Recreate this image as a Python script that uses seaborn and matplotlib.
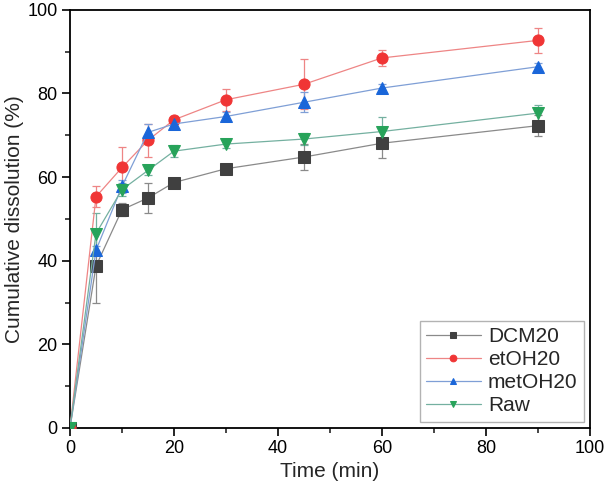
import seaborn as sns
import matplotlib.pyplot as plt
import pandas as pd
from matplotlib.ticker import MultipleLocator

# dissolution data
time = [0, 5, 10, 15, 20, 30, 45, 60, 90]
dcm20 = [0, 38.7, 52.2, 55.0, 58.7, 62.0, 64.8, 68.1, 72.3]
etoh20 = [0, 55.3, 62.3, 68.8, 73.7, 78.5, 82.2, 88.5, 92.7]
metoh20 = [0, 42.5, 57.8, 70.7, 72.7, 74.5, 77.9, 81.3, 86.4]
raw = [0, 46.5, 57.0, 61.6, 66.2, 67.9, 69.1, 70.9, 75.3]

dcm20_err = [0, 8.7, 1.5, 3.5, 1.0, 1.2, 3.0, 3.5, 2.5]
etoh20_err = [0, 2.5, 5.0, 4.0, 1.0, 2.6, 6.0, 2.0, 3.0]
metoh20_err = [0, 1.0, 1.5, 2.0, 1.2, 1.0, 2.4, 1.0, 1.0]
raw_err = [0, 5.0, 1.5, 1.0, 1.5, 1.0, 1.5, 3.4, 2.0]

names = ['DCM20', 'etOH20', 'metOH20', 'Raw']

sns.set_theme(style='ticks')
plt.rcParams['font.family'] = ['Liberation Sans', 'DejaVu Sans']

series = [
    (dcm20, dcm20_err, 's', '#404040', '#8a8a8a'),
    (etoh20, etoh20_err, 'o', '#f03535', '#ee8585'),
    (metoh20, metoh20_err, '^', '#1a66d9', '#7f9fd6'),
    (raw, raw_err, 'v', '#27a35a', '#74b0a0'),
]

fig = plt.figure(figsize=(6.06, 4.93), dpi=100)
ax = fig.add_axes([0.1155, 0.132, 0.858, 0.848])

for name, (vals, err, mk, mcol, lcol) in zip(names, series):
    df = pd.DataFrame({'Time': time, 'value': vals})
    ax.errorbar(time, vals, yerr=err, fmt='none', ecolor=lcol,
                elinewidth=0.9, capsize=3, capthick=0.9, zorder=2)
    sns.lineplot(data=df, x='Time', y='value', ax=ax, color=lcol,
                 linewidth=0.9, marker=mk, markersize=8,
                 markerfacecolor=mcol, markeredgecolor=mcol,
                 label=name, zorder=3)

ax.set_xlim(0, 100)
ax.set_ylim(0, 100)
ax.xaxis.set_major_locator(MultipleLocator(20))
ax.xaxis.set_minor_locator(MultipleLocator(10))
ax.yaxis.set_major_locator(MultipleLocator(20))
ax.yaxis.set_minor_locator(MultipleLocator(10))
ax.tick_params(which='major', direction='out', length=5.5, width=1.2,
               labelsize=13, colors='black')
ax.tick_params(which='minor', direction='out', length=3.5, width=1.2)
for s in ax.spines.values():
    s.set_linewidth(1.3)
    s.set_color('black')
    s.set_visible(True)

ax.set_xlabel('Time (min)', fontsize=15, labelpad=3)
ax.set_ylabel('Cumulative dissolution (%)', fontsize=15, labelpad=2)

leg = ax.legend(loc='lower right', fontsize=15, frameon=True, fancybox=False,
                edgecolor='#a0a0a0', handlelength=2.6, handletextpad=0.35,
                borderpad=0.3, labelspacing=0.2, borderaxespad=0.3,
                markerscale=0.6)
leg.get_frame().set_linewidth(1.0)

fig.savefig('out.png', dpi=100)
